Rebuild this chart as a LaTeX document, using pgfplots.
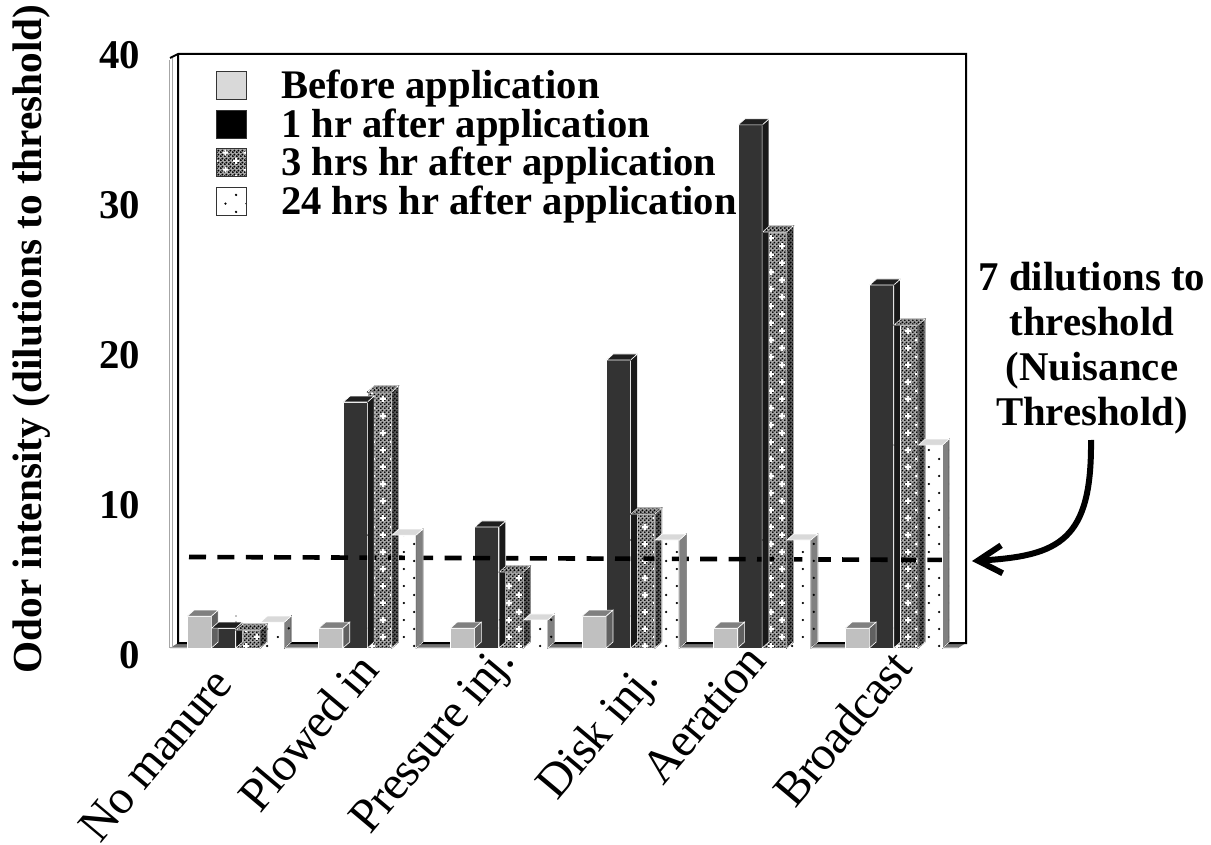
\documentclass[border=0pt]{standalone}
\usepackage{fontspec}
\setmainfont{Liberation Serif}
\newfontfamily\ticklab[LetterSpace=-2]{Liberation Serif}
\usepackage{pgfplots}
\usepackage{pgfplotstable}
\pgfplotsset{compat=1.18}
\usetikzlibrary{patterns,arrows.meta}

% 1 px of the reference = 0.5pt here
\pgfplotstableread{
x before onehr threehr day
0 2.13 1.33 1.20 1.73
1 1.33 16.4 17.07 7.53
2 1.33 8.07 5.07 1.87
3 2.13 19.2 8.93 7.20
4 1.33 34.87 27.73 7.20
5 1.33 24.2 21.53 13.53
}\odor

\definecolor{lightbar}{HTML}{C0C0C0}
\definecolor{darkbar}{HTML}{333333}

\pgfdeclarepatternformonly{sparsedots}{\pgfpointorigin}{\pgfqpoint{10.5pt}{8.5pt}}{\pgfqpoint{10.5pt}{8.5pt}}{
  \pgfpathcircle{\pgfqpoint{2.6pt}{2.1pt}}{0.65pt}
  \pgfpathcircle{\pgfqpoint{7.9pt}{6.35pt}}{0.65pt}
  \pgfusepath{fill}
}
\pgfdeclarepatternformonly{finecheck}{\pgfpointorigin}{\pgfqpoint{2pt}{2pt}}{\pgfqpoint{2pt}{2pt}}{
  \pgfpathcircle{\pgfqpoint{0.5pt}{0.5pt}}{0.62pt}
  \pgfpathcircle{\pgfqpoint{1.5pt}{1.5pt}}{0.62pt}
  \pgfusepath{fill}
}
\pgfdeclarepatternformonly{stars}{\pgfpointorigin}{\pgfqpoint{10.5pt}{8.5pt}}{\pgfqpoint{10.5pt}{8.5pt}}{
  \pgfpathrectangle{\pgfqpoint{1.1pt}{1.65pt}}{\pgfqpoint{3pt}{0.9pt}}
  \pgfpathrectangle{\pgfqpoint{2.15pt}{0.6pt}}{\pgfqpoint{0.9pt}{3pt}}
  \pgfpathrectangle{\pgfqpoint{6.4pt}{5.9pt}}{\pgfqpoint{3pt}{0.9pt}}
  \pgfpathrectangle{\pgfqpoint{7.45pt}{4.85pt}}{\pgfqpoint{0.9pt}{3pt}}
  \pgfusepath{fill}
}

\tikzset{
  face before/.style={fill=lightbar},
  top before/.style={fill=black!50},
  side before/.style={fill=black!62},
  face one/.style={fill=darkbar},
  top one/.style={fill=black!88},
  side one/.style={fill=black!90},
  face three/.style={preaction={fill=black!35},pattern=finecheck,pattern color=black,postaction={pattern=stars,pattern color=white}},
  top three/.style={preaction={fill=black!40},pattern=finecheck,pattern color=black},
  side three/.style={preaction={fill=black!65},pattern=finecheck,pattern color=black},
  face day/.style={preaction={fill=white},pattern=sparsedots,pattern color=black},
  top day/.style={fill=black!15},
  side day/.style={preaction={fill=black!50},pattern=sparsedots,pattern color=black},
}

% #1 bar shift, #2 column, #3 style suffix, #4 legend text, #5 legend swatch options
\newcommand{\odorseries}[5]{
  \addplot[only marks,forget plot,mark=*,mark size=0.01pt,mark options={draw=none,fill=none},
    scatter,visualization depends on={y \as \val},
    scatter/@pre marker code/.code={
      \scope
      \pgfmathsetlengthmacro{\hh}{\val*7.5pt}
      \pgfmathsetlengthmacro{\lx}{#1-6pt}
      \pgfmathsetlengthmacro{\rx}{#1+6pt}
      \fill[side #3,draw=white,line width=0.3pt] (\rx,0pt) -- (\rx+3.4pt,3pt) -- (\rx+3.4pt,-\hh+3pt) -- (\rx,-\hh) -- cycle;
      \fill[top #3,draw=white,line width=0.3pt] (\lx,0pt) -- (\lx+3.4pt,3pt) -- (\rx+3.4pt,3pt) -- (\rx,0pt) -- cycle;
    },
    scatter/@post marker code/.code={\endscope}
  ] table[x=x,y=#2] {\odor};
  \addplot[ybar,bar width=12pt,bar shift=#1,draw=white,line width=0.5pt,face #3,legend image post style={#5}] table[x=x,y=#2] {\odor};
  \addlegendentry{#4}
}
% tick label: text, slide along the baseline, drop below it
\newcommand{\xl}[3]{\raisebox{#3}{#1\kern#2}}

\begin{document}
\begin{tikzpicture}[x=0.5pt,y=-0.5pt]
\path[use as bounding box] (0,0) rectangle (1211,845);
% walls and floor of the 3D box
\fill[black!55] (170,648) -- (178,643) -- (966,643) -- (958,648) -- cycle;
\draw[black!35,line width=0.5pt] (169,647) -- (169,60) (172,647) -- (172,58) (169,647) -- (958,647);
\draw[line width=1pt] (170,58) -- (178,54) -- (966,54) -- (966,643) -- (178,643) -- (178,54);
\begin{axis}[
  at={(85pt,-324pt)},anchor=south west,
  scale only axis,width=398pt,height=300pt,
  xmin=-0.5014,xmax=5.5476,ymin=0,ymax=40,
  clip=false,
  axis line style={draw=none},
  major tick length=0pt,
  xtick={0,1,2,3,4,5},
  xticklabels={\xl{No manure}{14.6pt}{-11.3pt},\xl{Plowed in}{4.5pt}{-12.5pt},\xl{Pressure inj.}{-0.7pt}{-11pt},\xl{Disk inj.}{2.9pt}{-21.5pt},\xl{Aeration}{3.7pt}{-6.7pt},\xl{Broadcast}{1.2pt}{-14.1pt}},
  xticklabel style={font=\fontsize{24}{24}\ticklab,rotate=50,anchor=base east,inner sep=0pt},
  ytick={0,10,20,30,40},
  yticklabel style={font=\fontsize{20.4}{20}\selectfont\bfseries,/pgf/number format/assume math mode=true,xshift=-11.5pt,yshift=-3.5pt},
  ylabel={Odor intensity (dilutions to threshold)},
  every axis y label/.style={at={(rel axis cs:0,0.5)},xshift=-64pt,yshift=4.5pt,rotate=90,anchor=base,font=\fontsize{20.65}{20}\selectfont\bfseries},
  legend style={at={(axis description cs:0.05,0.977)},anchor=north west,draw=none,fill=none,
    font=\fontsize{20.3}{20}\selectfont\bfseries,row sep=-0.55pt,cells={anchor=west},
    /tikz/column 1/.style={column sep=15pt}},
  legend image code/.code={\path[#1,draw=black!80,line width=0.5pt] (0pt,-7pt) rectangle (15pt,7pt);},
]
\odorseries{-18.3pt}{before}{before}{Before application}{fill=black!15}
\odorseries{-6.1pt}{onehr}{one}{1 hr after application}{fill=black}
\odorseries{6.1pt}{threehr}{three}{3 hrs hr after application}{}
\odorseries{18.3pt}{day}{day}{24 hrs hr after application}{}
\addplot[forget plot,black,line width=2.3pt,dash pattern=on 8.5pt off 5.7pt] coordinates {(-0.357,6.07) (5.38,5.87)};
\end{axis}
\draw[line width=3pt,-{Straight Barb[length=12pt,width=14pt]}] (1091,440) .. controls (1092,540) and (1060,556) .. (972,561);
\node[align=center,font=\fontsize{20.4}{22.5}\selectfont\bfseries] at (1092,348) {7 dilutions to\\threshold\\(Nuisance\\Threshold)};
\end{tikzpicture}
\end{document}
